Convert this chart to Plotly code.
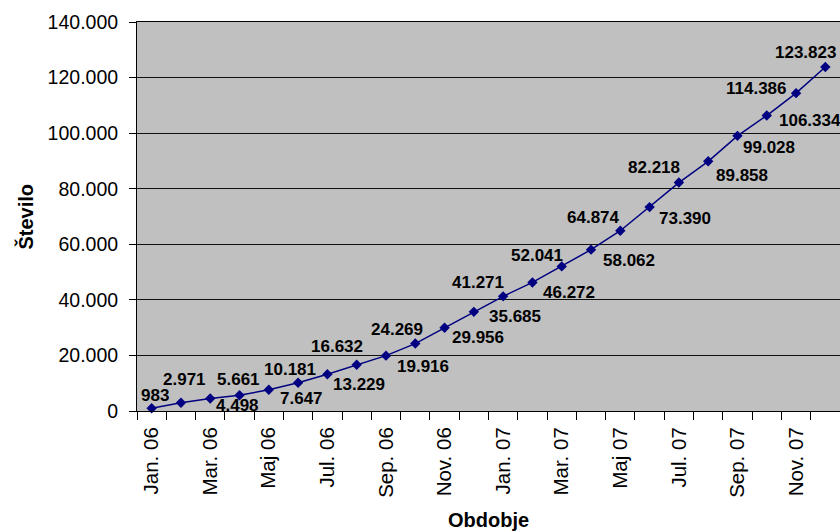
import plotly.graph_objects as go

months = ["Jan. 06", "Feb. 06", "Mar. 06", "Apr. 06", "Maj 06", "Jun. 06",
          "Jul. 06", "Avg. 06", "Sep. 06", "Okt. 06", "Nov. 06", "Dec. 06",
          "Jan. 07", "Feb. 07", "Mar. 07", "Apr. 07", "Maj 07", "Jun. 07",
          "Jul. 07", "Avg. 07", "Sep. 07", "Okt. 07", "Nov. 07", "Dec. 07"]
values = [983, 2971, 4498, 5661, 7647, 10181, 13229, 16632, 19916, 24269,
          29956, 35685, 41271, 46272, 52041, 58062, 64874, 73390, 82218,
          89858, 99028, 106334, 114386, 123823]
tick_labels = [m if i % 2 == 0 else "" for i, m in enumerate(months)]

# label offsets in pixels (dx right, dy down) relative to each point
label_offsets = [(3, -13), (4, -23), (27, 7), (-1, -16), (33, 9), (-8, -13),
                 (32, 10), (-20, -18), (37, 11), (-18, -14), (33, 10), (41, 5),
                 (-25, -14), (37, 10), (-25, -11), (38, 11), (-27, -13), (35, 11),
                 (-25, -15), (34, 14), (32, 12), (43, 5), (-40, -5), (-20, -14)]

NAVY = "#000080"
FONT = "Liberation Sans, Arial, sans-serif"

fig = go.Figure()
fig.add_trace(go.Scatter(
    x=months, y=values, mode="lines+markers",
    line=dict(color=NAVY, width=1.5),
    marker=dict(symbol="diamond", size=8, color=NAVY),
    hoverinfo="skip", showlegend=False, cliponaxis=False,
))

def fmt(v):
    return f"{v:,}".replace(",", ".")

annotations = []
for m, v, (dx, dy) in zip(months, values, label_offsets):
    annotations.append(dict(
        x=m, y=v, xref="x", yref="y", text="<b>" + fmt(v) + "</b>", showarrow=False,
        xshift=dx, yshift=-dy, xanchor="center", yanchor="middle",
        font=dict(family=FONT, size=17, color="black"),
    ))

annotations.append(dict(
    x=0, y=0.5, xref="paper", yref="paper", text="<b>Število</b>",
    showarrow=False, textangle=-90, xshift=-112, xanchor="center", yanchor="middle",
    font=dict(family=FONT, size=20, color="black"),
))
annotations.append(dict(
    x=0.5, y=0, xref="paper", yref="paper", text="<b>Obdobje</b>",
    showarrow=False, yshift=-109, xanchor="center", yanchor="middle",
    font=dict(family=FONT, size=20, color="black"),
))

fig.update_layout(
    width=840, height=532,
    margin=dict(l=137, r=0, t=22, b=121),
    paper_bgcolor="white", plot_bgcolor="#C0C0C0",
    separators=",.",
    annotations=annotations,
    font=dict(family=FONT, color="black"),
)
fig.update_xaxes(
    type="category", range=[-0.5, 23.5],
    tickmode="array", tickvals=months, ticktext=tick_labels,
    tickson="boundaries", ticks="outside", ticklen=8, tickcolor="black",
    tickangle=-90, ticklabelstandoff=7,
    tickfont=dict(family=FONT, size=20.5, color="black"),
    showgrid=False, showline=True, linecolor="black", linewidth=1, mirror=True,
    zeroline=False,
)
fig.update_yaxes(
    range=[0, 140000], dtick=20000, tick0=0, tickformat=",d",
    ticks="outside", ticklen=7, tickcolor="black", ticklabelstandoff=7,
    tickfont=dict(family=FONT, size=19.5, color="black"),
    showgrid=True, gridcolor="#111111", gridwidth=1,
    showline=True, linecolor="black", linewidth=1, zeroline=False,
)

fig.write_html(
    "out.html",
    config={"responsive": False, "displayModeBar": False},
    post_script="document.body.style.margin='0';document.body.style.overflow='hidden';",
)
